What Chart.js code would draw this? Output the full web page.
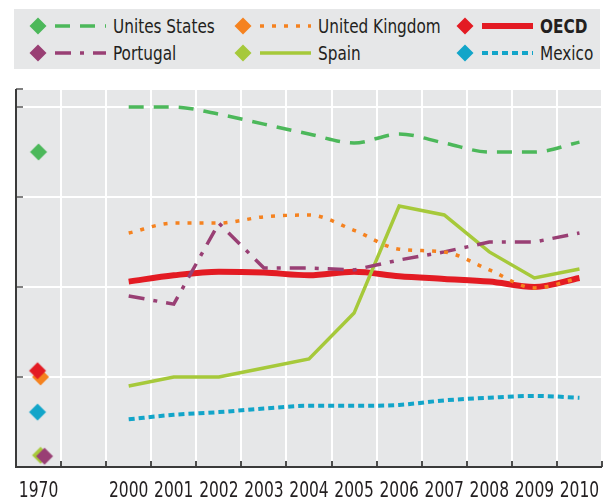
<!DOCTYPE html>
<html>
<head>
<meta charset="utf-8">
<script src="https://cdn.jsdelivr.net/npm/chart.js@4"></script>
<style>
  html, body { margin: 0; padding: 0; background: #fff; }
  #wrap { position: relative; width: 608px; height: 498px; }
  #legend {
    position: absolute; left: 14px; top: 9px; width: 586px; height: 60px;
    background: #e6e7e8;
    font-family: 'DejaVu Sans Condensed', 'DejaVu Sans', sans-serif;
    font-size: 20px; color: #231f20;
  }
  .item { position: absolute; display: flex; align-items: center; height: 24px; white-space: nowrap; }
  .item svg { display: block; margin-right: 6px; flex: none; }
  .item span { display: inline-block; transform: scaleX(0.85); transform-origin: 0 50%; }
</style>
</head>
<body>
<div id="wrap">
  <canvas id="chart" width="608" height="498"></canvas>
  <div id="legend"></div>
</div>
<script>
const years = ['1970', '', '2000', '2001', '2002', '2003', '2004', '2005', '2006', '2007', '2008', '2009', '2010'];

const unitedStates  = [35.0, null, 40.0, 40.0, 39.2, 38.1, 37.0, 36.0, 37.0, 36.0, 35.0, 35.0, 36.1];
const unitedKingdom = [10.0, null, 26.0, 27.1, 27.1, 27.8, 28.0, 26.3, 24.2, 23.9, 21.9, 19.9, 21.0];
const oecd          = [10.7, null, 20.6, 21.3, 21.7, 21.6, 21.3, 21.7, 21.2, 20.9, 20.6, 20.0, 21.0];
const portugal      = [1.2,  null, 19.0, 18.1, 27.1, 22.1, 22.1, 21.9, 23.0, 23.9, 25.0, 25.0, 26.0];
const spain         = [1.3,  null, 9.0, 10.0, 10.0, 11.0, 12.0, 17.1, 29.0, 28.0, 23.9, 21.0, 22.0];
const mexico        = [6.1,  null, 5.3, 5.8, 6.1, 6.5, 6.8, 6.8, 6.9, 7.4, 7.7, 7.9, 7.7];

const FONT = "'DejaVu Sans Condensed', 'DejaVu Sans', sans-serif";

// legend order: row by row, three columns
// nudge = small shift of the 1970 diamond so overlapping ones stay visible
const series = [
  {label: 'Unites States',  data: unitedStates,  color: '#4cb85a', width: 3.5, dash: [15, 10], smooth: true,  nudge: [0, 0]},
  {label: 'United Kingdom', data: unitedKingdom, color: '#f5821f', width: 3.5, dash: [4, 8],   smooth: true,  nudge: [2, 0]},
  {label: 'OECD',           data: oecd,          color: '#e31b23', width: 6,   dash: [],       smooth: true,  nudge: [-1, 0], bold: true},
  {label: 'Portugal',       data: portugal,      color: '#993f74', width: 3.5, dash: [16, 9, 4, 9], smooth: false, nudge: [6, 0]},
  {label: 'Spain',          data: spain,         color: '#a6c93a', width: 3.5, dash: [],       smooth: false, nudge: [2, 0]},
  {label: 'Mexico',         data: mexico,        color: '#12a5c9', width: 4,   dash: [6, 4],   smooth: true,  nudge: [-1, 0]},
];

// line layering: OECD underneath the country lines
const lineOrder = ['Unites States', 'United Kingdom', 'Portugal', 'Spain', 'Mexico', 'OECD'];
// marker layering: OECD over UK, Portugal over Spain
const markerOrder = ['OECD', 'United Kingdom', 'Portugal', 'Spain', 'Unites States', 'Mexico'];

function diamond(color, dx, dy) {
  const c = document.createElement('canvas');
  c.width = 32; c.height = 32;
  const g = c.getContext('2d');
  const cx = 16 + dx, cy = 16 + dy, r = 8.5;
  g.fillStyle = color;
  g.beginPath();
  g.moveTo(cx, cy - r); g.lineTo(cx + r, cy); g.lineTo(cx, cy + r); g.lineTo(cx - r, cy);
  g.closePath();
  g.fill();
  return c;
}

const byName = name => series.find(x => x.label === name);

const markerSets = markerOrder.map(name => {
  const s = byName(name);
  return {
    label: s.label + ' 1970',
    data: s.data.map((v, i) => i === 0 ? v : null),
    showLine: false,
    pointStyle: diamond(s.color, s.nudge[0], s.nudge[1]),
    pointRadius: 8.5,
    pointHoverRadius: 8.5,
  };
});

const lineSets = lineOrder.map(name => {
  const s = byName(name);
  return {
    label: s.label,
    data: s.data.map((v, i) => i === 0 ? null : v),
    borderColor: s.color,
    backgroundColor: s.color,
    borderWidth: s.width,
    borderDash: s.dash,
    cubicInterpolationMode: s.smooth ? 'monotone' : 'default',
    tension: 0,
    spanGaps: false,
    pointRadius: 0,
    pointHoverRadius: 0,
  };
});

// gray plot area
const plotBackground = {
  id: 'plotBackground',
  beforeDraw(chart) {
    const {ctx, chartArea: a} = chart;
    ctx.save();
    ctx.fillStyle = '#e6e7e8';
    ctx.fillRect(a.left, a.top, a.right - a.left, a.bottom - a.top);
    ctx.restore();
  }
};

// axis lines with short ticks pointing into the plot, plus narrow year labels
const axes = {
  id: 'axes',
  beforeDatasetsDraw(chart) {
    const {ctx, chartArea: a, scales: {x, y}} = chart;
    ctx.save();
    ctx.lineWidth = 2;
    ctx.strokeStyle = '#808080';
    y.ticks.forEach(t => {
      const py = y.getPixelForValue(t.value);
      ctx.beginPath();
      ctx.moveTo(a.left, py);
      ctx.lineTo(a.left + 7, py);
      ctx.stroke();
    });
    ctx.strokeStyle = '#4d4d4d';
    const n = x.ticks.length;
    const step = (x.right - x.left) / n;
    for (let i = 1; i <= n; i++) {
      const px = Math.round(x.left + i * step);
      ctx.beginPath();
      ctx.moveTo(px, a.bottom);
      ctx.lineTo(px, a.bottom - 6);
      ctx.stroke();
    }
    ctx.strokeStyle = '#3a3a3a';
    ctx.beginPath();
    ctx.moveTo(a.left, a.top);
    ctx.lineTo(a.left, a.bottom);
    ctx.lineTo(a.right, a.bottom);
    ctx.stroke();

    ctx.fillStyle = '#231f20';
    ctx.font = '21px ' + FONT;
    ctx.textAlign = 'center';
    ctx.textBaseline = 'alphabetic';
    chart.data.labels.forEach((lab, i) => {
      ctx.save();
      ctx.translate(x.getPixelForTick(i), a.bottom + 30);
      ctx.scale(0.82, 1);
      ctx.fillText(lab, 0, 0);
      ctx.restore();
    });
    ctx.restore();
  }
};

new Chart(document.getElementById('chart'), {
  type: 'line',
  data: {labels: years, datasets: markerSets.concat(lineSets)},
  options: {
    responsive: false,
    animation: false,
    layout: {autoPadding: false, padding: {left: 16, right: 6, top: 89, bottom: 31}},
    plugins: {legend: {display: false}, tooltip: {enabled: false}},
    scales: {
      x: {
        offset: true,
        grid: {offset: true, color: '#ffffff', lineWidth: 2, drawTicks: false},
        border: {display: false},
        ticks: {display: false}
      },
      y: {
        min: 0,
        max: 42,
        grid: {color: '#ffffff', lineWidth: 2, drawTicks: false},
        border: {display: false},
        ticks: {stepSize: 10, display: false}
      }
    }
  },
  plugins: [plotBackground, axes]
});

// legend: diamond marker, line sample, name
const legend = document.getElementById('legend');
const colLeft = [15, 220, 442];
const rowTop = [5, 32];
series.forEach((s, i) => {
  const item = document.createElement('div');
  item.className = 'item';
  item.style.left = colLeft[i % 3] + 'px';
  item.style.top = rowTop[Math.floor(i / 3)] + 'px';
  const dash = s.dash.length ? ` stroke-dasharray="${s.dash.join(' ')}"` : '';
  item.innerHTML =
    `<svg width="78" height="24" viewBox="0 0 78 24">` +
    `<polygon points="9,3.5 17.5,12 9,20.5 0.5,12" fill="${s.color}"/>` +
    `<line x1="26" y1="12" x2="77" y2="12" stroke="${s.color}" stroke-width="${s.width}"${dash}/>` +
    `</svg><span style="font-weight:${s.bold ? 'bold' : 'normal'}">${s.label}</span>`;
  legend.appendChild(item);
});
</script>
</body>
</html>
